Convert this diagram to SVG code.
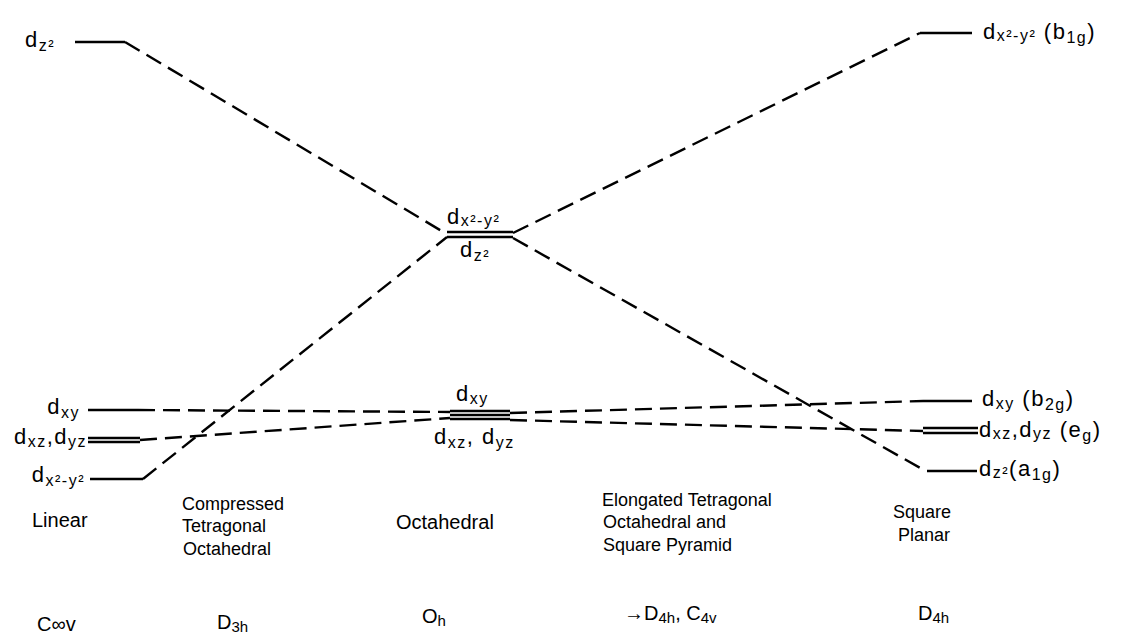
<svg xmlns="http://www.w3.org/2000/svg" width="1131" height="636" viewBox="0 0 1131 636">
<style>
text{font-family:"Liberation Sans",Arial,sans-serif;fill:#000}
.orb{font-size:22px;letter-spacing:1.5px}
.sub{font-size:16px}
.lab{font-size:18px}
.pg{font-size:20px}
.pg .sub{font-size:15px}
.lvl{stroke:#000;stroke-width:2.4;fill:none}
.dash{stroke:#000;stroke-width:2.4;fill:none;stroke-dasharray:17 8}
</style>
<rect width="1131" height="636" fill="#fff"/>
<g id="connectors">
<line class="dash" x1="125" y1="42" x2="445" y2="233"/>
<line class="dash" x1="143" y1="479" x2="447" y2="237"/>
<line class="dash" x1="138" y1="410" x2="450" y2="412"/>
<line class="dash" x1="140" y1="440" x2="450" y2="418"/>
<line class="dash" x1="513" y1="233" x2="920" y2="33"/>
<line class="dash" x1="513" y1="238" x2="922" y2="469"/>
<line class="dash" x1="510" y1="413" x2="923" y2="401"/>
<line class="dash" x1="510" y1="420" x2="923" y2="431"/>
</g>
<g id="linear-dz2">
<line class="lvl" x1="75" y1="42" x2="125" y2="42"/>
<text class="orb" x="25" y="47">d<tspan class="sub" dy="4">z²</tspan></text>
</g>
<g id="linear-dxy">
<line class="lvl" x1="88" y1="410" x2="138" y2="410"/>
<text class="orb" x="80" y="414" text-anchor="end">d<tspan class="sub" dy="4">xy</tspan></text>
</g>
<g id="linear-dxz-dyz">
<line class="lvl" x1="88" y1="438" x2="140" y2="438"/>
<line class="lvl" x1="88" y1="442" x2="140" y2="442"/>
<text class="orb" x="87" y="444" text-anchor="end">d<tspan class="sub" dy="3">xz</tspan><tspan dy="-3">,d</tspan><tspan class="sub" dy="3">yz</tspan></text>
</g>
<g id="linear-dx2y2">
<line class="lvl" x1="90" y1="479" x2="143" y2="479"/>
<text class="orb" x="85" y="482" text-anchor="end">d<tspan class="sub" dy="4">x²-y²</tspan></text>
</g>
<g id="oct-eg">
<line class="lvl" x1="447" y1="232" x2="513" y2="232"/>
<line class="lvl" x1="447" y1="237" x2="513" y2="237"/>
<text class="orb" x="447" y="224">d<tspan class="sub" dy="2">x²-y²</tspan></text>
<text class="orb" x="460" y="257">d<tspan class="sub" dy="4">z²</tspan></text>
</g>
<g id="oct-t2g">
<line class="lvl" x1="450" y1="411" x2="510" y2="411"/>
<line class="lvl" x1="450" y1="415" x2="510" y2="415"/>
<line class="lvl" x1="450" y1="419" x2="510" y2="419"/>
<text class="orb" x="456" y="401">d<tspan class="sub" dy="3">xy</tspan></text>
<text class="orb" x="434" y="444">d<tspan class="sub" dy="4">xz</tspan><tspan dy="-4">, d</tspan><tspan class="sub" dy="4">yz</tspan></text>
</g>
<g id="sqp-b1g">
<line class="lvl" x1="920" y1="33" x2="972" y2="33"/>
<text class="orb" x="983" y="39">d<tspan class="sub" dy="2">x²-y²</tspan><tspan dy="-2"> (b</tspan><tspan class="sub" dy="4">1g</tspan><tspan dy="-4">)</tspan></text>
</g>
<g id="sqp-b2g">
<line class="lvl" x1="923" y1="401" x2="972" y2="401"/>
<text class="orb" x="982" y="406">d<tspan class="sub" dy="3">xy</tspan><tspan dy="-3"> (b</tspan><tspan class="sub" dy="4">2g</tspan><tspan dy="-4">)</tspan></text>
</g>
<g id="sqp-eg">
<line class="lvl" x1="923" y1="428" x2="978" y2="428"/>
<line class="lvl" x1="923" y1="433" x2="978" y2="433"/>
<text class="orb" x="979" y="437">d<tspan class="sub" dy="2">xz</tspan><tspan dy="-2">,d</tspan><tspan class="sub" dy="2">yz</tspan><tspan dy="-2"> (e</tspan><tspan class="sub" dy="4">g</tspan><tspan dy="-4">)</tspan></text>
</g>
<g id="sqp-a1g">
<line class="lvl" x1="927" y1="471" x2="977" y2="471"/>
<text class="orb" x="979" y="476">d<tspan class="sub" dy="2">z²</tspan><tspan dy="-2">(a</tspan><tspan class="sub" dy="4">1g</tspan><tspan dy="-4">)</tspan></text>
</g>
<g id="geometry-labels" class="lab">
<text x="32" y="527" style="font-size:20px">Linear</text>
<text x="182" y="510">Compressed</text>
<text x="182" y="532">Tetragonal</text>
<text x="183" y="555">Octahedral</text>
<text x="396" y="529" style="font-size:20px">Octahedral</text>
<text x="602" y="506">Elongated Tetragonal</text>
<text x="603" y="528">Octahedral and</text>
<text x="603" y="551">Square Pyramid</text>
<text x="893" y="518">Square</text>
<text x="898" y="541">Planar</text>
</g>
<g id="point-groups" class="pg">
<text x="37" y="631">C∞v</text>
<text x="217" y="629">D<tspan class="sub" dy="3">3h</tspan></text>
<text x="422" y="623">O<tspan class="sub" dy="3">h</tspan></text>
<text x="624" y="620">→D<tspan class="sub" dy="3">4h</tspan><tspan dy="-3">, C</tspan><tspan class="sub" dy="3">4v</tspan></text>
<text x="918" y="620">D<tspan class="sub" dy="3">4h</tspan></text>
</g>
</svg>
